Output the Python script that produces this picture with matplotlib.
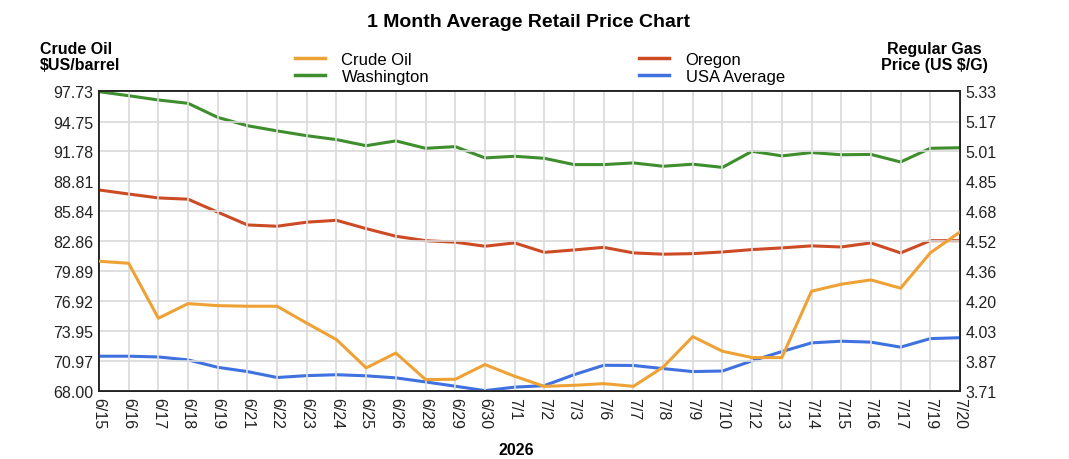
import matplotlib.pyplot as plt
import numpy as np
from matplotlib.lines import Line2D

plt.rcParams['font.family'] = ['Liberation Sans', 'DejaVu Sans']

# dates on the x axis (category axis)
dates = ["6/15", "6/16", "6/17", "6/18", "6/19", "6/21", "6/22", "6/23", "6/24", "6/25",
         "6/26", "6/28", "6/29", "6/30", "7/1", "7/2", "7/3", "7/6", "7/7", "7/8",
         "7/9", "7/10", "7/12", "7/13", "7/14", "7/15", "7/16", "7/17", "7/19", "7/20"]

# crude oil, $US/barrel (left axis)
crude_oil = [80.90, 80.70, 75.25, 76.70, 76.50, 76.44, 76.44, 74.76, 73.13, 70.33,
             71.80, 69.17, 69.20, 70.66, 69.50, 68.50, 68.60, 68.77, 68.50, 70.40,
             73.43, 71.98, 71.35, 71.35, 77.93, 78.62, 79.05, 78.23, 81.73, 83.80]

# regular gas, US $/gallon (right axis)
washington = [5.329, 5.307, 5.284, 5.266, 5.190, 5.145, 5.117, 5.091, 5.070, 5.037,
              5.063, 5.023, 5.032, 4.971, 4.980, 4.969, 4.935, 4.935, 4.944, 4.926,
              4.937, 4.920, 5.007, 4.982, 5.000, 4.988, 4.990, 4.949, 5.023, 5.026]
oregon = [4.798, 4.776, 4.755, 4.748, 4.678, 4.609, 4.602, 4.624, 4.634, 4.589,
          4.548, 4.524, 4.516, 4.494, 4.512, 4.461, 4.474, 4.488, 4.458, 4.451,
          4.454, 4.463, 4.476, 4.485, 4.496, 4.490, 4.512, 4.458, 4.524, 4.524]
usa_average = [3.900, 3.900, 3.896, 3.880, 3.840, 3.817, 3.785, 3.795, 3.800, 3.794,
               3.783, 3.761, 3.738, 3.714, 3.733, 3.741, 3.800, 3.851, 3.850, 3.833,
               3.817, 3.820, 3.875, 3.925, 3.972, 3.981, 3.976, 3.949, 3.995, 4.000]

left_ticks = [68.00, 70.97, 73.95, 76.92, 79.89, 82.86, 85.84, 88.81, 91.78, 94.75, 97.73]
right_ticks = [3.71, 3.87, 4.03, 4.20, 4.36, 4.52, 4.68, 4.85, 5.01, 5.17, 5.33]

c_crude = '#eea236'
c_oregon = '#cc4b25'
c_wash = '#3e8e2e'
c_usa = '#3f72e0'

fig = plt.figure(figsize=(10.69, 4.6), dpi=100)
ax = fig.add_axes([0.0926, 0.147, 0.8054, 0.652])
ax2 = ax.twinx()

x = np.arange(len(dates))

ax.plot(x, crude_oil, color=c_crude, lw=2.2, zorder=5)
ax2.plot(x, washington, color=c_wash, lw=2.2)
ax2.plot(x, oregon, color=c_oregon, lw=2.2)
ax2.plot(x, usa_average, color=c_usa, lw=2.2)

ax.set_xlim(0, len(dates) - 1)
ax.set_ylim(left_ticks[0], left_ticks[-1])
ax2.set_ylim(3.71, 5.33)

fs = 11.5
ax.set_xticks(x)
ax.set_xticklabels(dates, rotation=270, fontsize=fs, color='#222222')
ax.set_yticks(left_ticks)
ax.set_yticklabels(["%.2f" % v for v in left_ticks], fontsize=fs, color='#222222')
ax2.set_yticks(np.linspace(3.71, 5.33, 11))
ax2.set_yticklabels(["%.2f" % v for v in right_ticks], fontsize=fs, color='#222222')

ax.tick_params(axis='both', length=0, pad=4)
ax2.tick_params(axis='y', length=0, pad=4)

ax.grid(True, color='#d9d9d9', lw=1.2)
ax.set_axisbelow(True)
# put the crude line above the gas lines
ax.set_zorder(ax2.get_zorder() + 1)
ax.patch.set_visible(False)

for a in (ax, ax2):
    for s in a.spines.values():
        s.set_color('#222222')
        s.set_linewidth(1.3)

fig.text(0.494, 0.952, "1 Month Average Retail Price Chart", ha='center', va='center',
         fontsize=14, fontweight='bold')
fig.text(0.037, 0.875, "Crude Oil\n$US/barrel", ha='left', va='center',
         fontsize=11.5, fontweight='bold', linespacing=1.1)
fig.text(0.874, 0.875, "Regular Gas\nPrice (US $/G)", ha='center', va='center',
         fontsize=11.5, fontweight='bold', linespacing=1.1)
fig.text(0.483, 0.004, "2026", ha='center', va='bottom', fontsize=11.5, fontweight='bold')

h1 = [Line2D([], [], color=c_crude, lw=2.5), Line2D([], [], color=c_wash, lw=2.5)]
h2 = [Line2D([], [], color=c_oregon, lw=2.5), Line2D([], [], color=c_usa, lw=2.5)]
leg_kw = dict(frameon=False, fontsize=12, handlelength=1.8, handletextpad=1.0,
              labelspacing=0.1, borderpad=0, loc='center left')
fig.legend(h1, ["Crude Oil", "Washington"], bbox_to_anchor=(0.268, 0.85), **leg_kw)
fig.legend(h2, ["Oregon", "USA Average"], bbox_to_anchor=(0.590, 0.85), **leg_kw)

fig.savefig('out.png', dpi=100)
